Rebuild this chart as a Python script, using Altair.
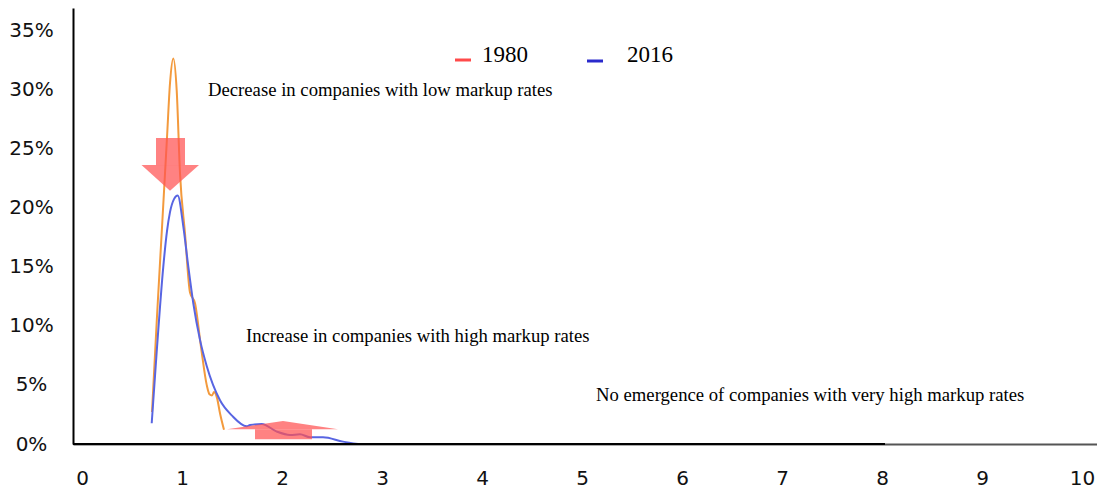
import altair as alt
import pandas as pd

# ---- data ----
series_names = ["1980", "2016"]

x_1980 = [0.70, 0.75, 0.80, 0.85, 0.88, 0.913, 0.947, 0.98, 1.03, 1.08, 1.13, 1.19,
          1.247, 1.275, 1.30, 1.32, 1.35, 1.38, 1.42]
y_1980 = [2.7, 10.8, 18.3, 25.9, 30.5, 32.6, 29.9, 22.9, 17.8, 12.8, 11.9, 8.2,
          5.0, 4.2, 4.1, 4.4, 3.9, 2.6, 1.2]

x_2016 = [0.697, 0.747, 0.813, 0.85, 0.88, 0.92, 0.957, 1.013, 1.063, 1.113, 1.18, 1.247,
          1.38, 1.50, 1.647, 1.68, 1.797, 1.947, 2.08, 2.18, 2.28, 2.41, 2.61, 2.76]
y_2016 = [1.75, 7.8, 15.0, 18.0, 19.6, 20.7, 21.0, 18.4, 15.0, 11.9, 8.8, 6.6,
          3.7, 2.4, 1.5, 1.6, 1.7, 1.05, 0.76, 0.82, 0.57, 0.57, 0.2, 0.0]

x_ticks = [0, 1, 2, 3, 4, 5, 6, 7, 8, 9, 10]
y_ticks = [0.0, 0.05, 0.10, 0.15, 0.20, 0.25, 0.30, 0.35]

annotation_texts = [
    "Decrease in companies with low markup rates",
    "Increase in companies with high markup rates",
    "No emergence of companies with very high markup rates",
]

# arrows (annotation shapes, in data units): shaft rectangles and heads
arrow_ids = ["down", "up"]
shaft_x = [0.74, 1.73]
shaft_x2 = [1.03, 2.30]
shaft_y = [25.87, 1.24]
shaft_y2 = [23.58, 0.40]
head_x = [[0.595, 0.88, 1.17], [1.45, 2.01, 2.56]]
head_base = [23.58, 1.24]
head_tip = [21.41, 1.94]

# ---- tables ----
lines_df = pd.DataFrame({
    "x": x_1980 + x_2016,
    "y": [v / 100 for v in y_1980] + [v / 100 for v in y_2016],
    "series": [series_names[0]] * len(x_1980) + [series_names[1]] * len(x_2016),
})

shaft_df = pd.DataFrame({
    "id": arrow_ids, "x": shaft_x, "x2": shaft_x2,
    "y": [v / 100 for v in shaft_y], "y2": [v / 100 for v in shaft_y2],
})

head_rows = []
for i, aid in enumerate(arrow_ids):
    for j, hx in enumerate(head_x[i]):
        head_rows.append({
            "id": aid, "x": hx,
            "y": head_base[i] / 100,
            "y2": (head_tip[i] if j == 1 else head_base[i]) / 100,
        })
head_df = pd.DataFrame(head_rows)

zero_df = pd.DataFrame({"x": [-0.09], "x2": [8.03], "y": [0.0]})

xscale = alt.Scale(domain=[-0.09, 10.15], nice=False, zero=False)
yscale = alt.Scale(domain=[0, 0.3686], nice=False, zero=False)

axis_font = "DejaVu Sans"
serif = "Liberation Serif"

lines = alt.Chart(lines_df).mark_line(interpolate="monotone", strokeWidth=2).encode(
    x=alt.X("x:Q", scale=xscale, axis=alt.Axis(
        values=x_ticks, format="d", title=None, ticks=False, tickSize=0, grid=False,
        labelPadding=24, domainColor="#555555", domainWidth=2,
        labelFont=axis_font, labelFontSize=20, labelColor="#111111", labelFlush=False)),
    y=alt.Y("y:Q", scale=yscale, axis=alt.Axis(
        values=y_ticks, format=".0%", title=None, ticks=False, tickSize=0, grid=False,
        labelPadding=42, labelAlign="center", labelBaseline="middle",
        domainColor="#000000", domainWidth=2,
        labelFont=axis_font, labelFontSize=20, labelColor="#111111", labelFlush=False)),
    color=alt.Color("series:N", scale=alt.Scale(domain=series_names,
                                                range=["#f39a3d", "#5865e2"]), legend=None),
)

zero_rule = alt.Chart(zero_df).mark_rule(color="#000000", strokeWidth=2).encode(
    x="x:Q", x2="x2:Q", y="y:Q")

shafts = alt.Chart(shaft_df).mark_rect(color="#ff5252", opacity=0.72).encode(
    x="x:Q", x2="x2:Q", y="y:Q", y2="y2:Q")

heads = alt.Chart(head_df).mark_area(color="#ff5252", opacity=0.72, interpolate="linear").encode(
    x="x:Q", y="y:Q", y2="y2:Q", detail="id:N")

one = pd.DataFrame({"a": [0]})

leg_1980_sym = alt.Chart(one).mark_rule(color="#ff4a4a", strokeWidth=3).encode(
    x=alt.value(382), x2=alt.value(398), y=alt.value(52))
leg_2016_sym = alt.Chart(one).mark_rule(color="#2a2acc", strokeWidth=3).encode(
    x=alt.value(514), x2=alt.value(530), y=alt.value(53))
leg_1980_txt = alt.Chart(one).mark_text(align="left", baseline="middle", font=serif,
                                        fontSize=23, color="#000000").encode(
    x=alt.value(409), y=alt.value(47), text=alt.value(series_names[0]))
leg_2016_txt = alt.Chart(one).mark_text(align="left", baseline="middle", font=serif,
                                        fontSize=23, color="#000000").encode(
    x=alt.value(554), y=alt.value(47), text=alt.value(series_names[1]))

def note(text, px, py):
    return alt.Chart(one).mark_text(align="left", baseline="middle", font=serif,
                                    fontSize=18.7, color="#000000").encode(
        x=alt.value(px), y=alt.value(py), text=alt.value(text))

notes = [
    note(annotation_texts[0], 135, 82),
    note(annotation_texts[1], 173, 328),
    note(annotation_texts[2], 523, 387),
]

chart = alt.layer(
    lines, zero_rule, shafts, heads,
    leg_1980_sym, leg_2016_sym, leg_1980_txt, leg_2016_txt, *notes
).properties(
    width=1024, height=436,
    padding={"left": 65, "top": 0, "right": 0, "bottom": 46},
    autosize=alt.AutoSizeParams(type="none"),
    background="#ffffff",
).configure_view(stroke=None)

chart.save("out.html", embed_options={"renderer": "svg", "actions": False})
